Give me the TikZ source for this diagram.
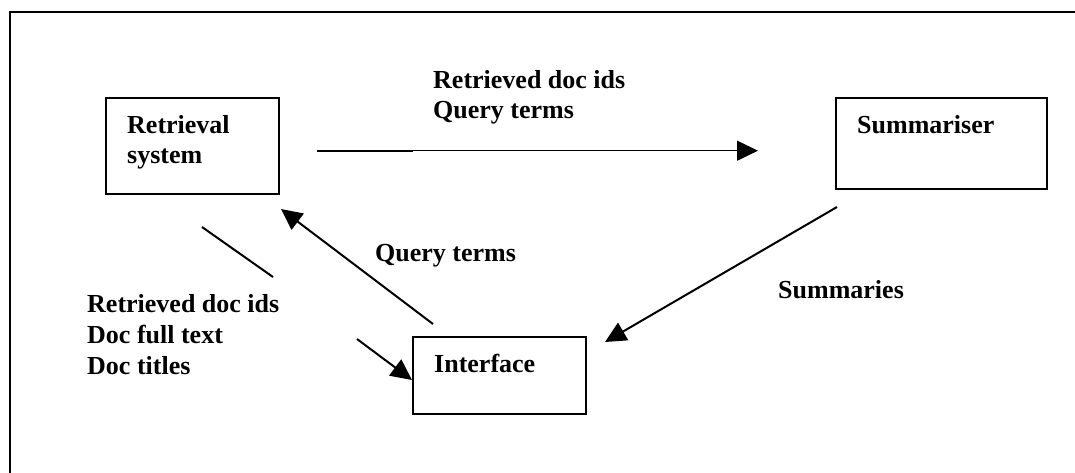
\documentclass[tikz,border=0pt]{standalone}
\usepackage{fontspec}
\setmainfont{Liberation Serif}
\usetikzlibrary{arrows.meta}
\begin{document}
\begin{tikzpicture}[x=1pt,y=-1pt,
  box/.style={draw, line width=1.4pt, rectangle, inner sep=0pt, outer sep=0pt, anchor=north west},
  lbl/.style={font=\fontsize{26}{31}\selectfont\bfseries, inner sep=0pt, anchor=base west, align=left},
  lblnarrow/.style={lbl, font=\fontsize{26}{30}\selectfont\bfseries},
  conn/.style={line width=2pt},
  thinconn/.style={line width=1.1pt},
  tip/.style={-{Triangle[length=21pt,width=20pt]}},
]
\useasboundingbox (0,0) rectangle (1075,472);
% outer frame (right and bottom edges lie outside the picture)
\draw[line width=2pt] (10,480) -- (10,11.5) -- (1080,11.5);

% boxes
\node[box, minimum width=173pt, minimum height=96pt] (ret) at (106,98) {};
\node[box, minimum width=211pt, minimum height=91pt] (sum) at (836,98) {};
\node[box, minimum width=173pt, minimum height=77pt] (ifc) at (413,337) {};

% box texts (base anchor = baseline of the last line)
\node[lblnarrow] (rettxt) at (127,163) {Retrieval\\system};
\node[lbl] (sumtxt) at (857,133) {Summariser};
\node[lbl] (ifctxt) at (434,372) {Interface};

% connector labels
\node[lblnarrow] (toplbl) at (433,118) {Retrieved doc ids\\Query terms};
\node[lbl] (qlbl) at (375,261) {Query terms};
\node[lbl] (leftlbl) at (87,374) {Retrieved doc ids\\Doc full text\\Doc titles};
\node[lbl] (sumlbl) at (778,298) {Summaries};

% connector end points
\coordinate (h1) at (317,150.7);
\coordinate (h2) at (413,150.7);
\coordinate (h3) at (758,150.7);
\coordinate (l1) at (202,227);
\coordinate (l2) at (273,277);
\coordinate (l3) at (357,339);
\coordinate (l4) at (412,380);
\coordinate (q1) at (433,324);
\coordinate (q2) at (281,209);
\coordinate (s1) at (837,207);
\coordinate (s2) at (605,342);

% connectors
\draw[conn] (h1) -- (h2);
\draw[thinconn, tip] (h2) -- (h3);
\draw[conn] (l1) -- (l2);
\draw[conn, tip] (l3) -- (l4);
\draw[conn, tip] (q1) -- (q2);
\draw[conn, tip] (s1) -- (s2);
\end{tikzpicture}
\end{document}
